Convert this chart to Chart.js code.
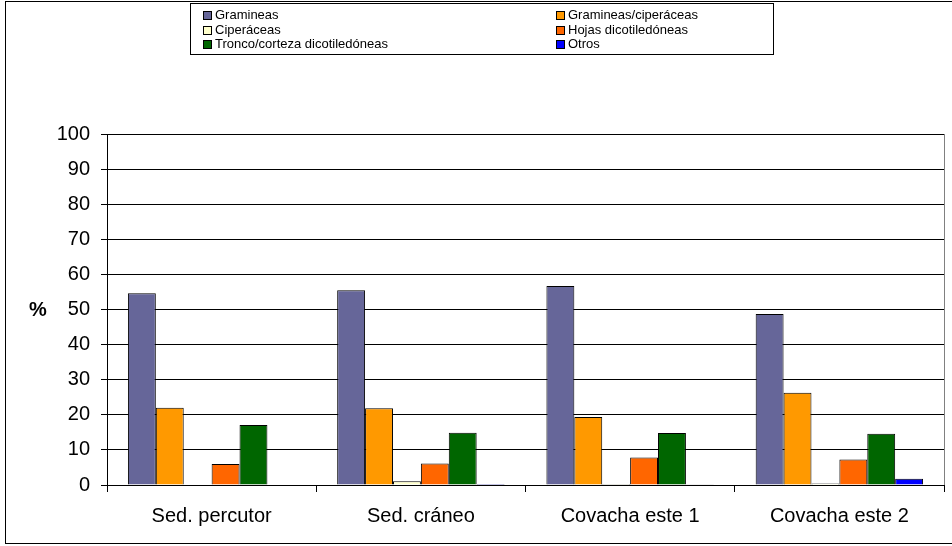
<!DOCTYPE html>
<html>
<head>
<meta charset="utf-8">
<script src="https://cdn.jsdelivr.net/npm/chart.js@4/dist/chart.umd.min.js"></script>
<style>
  html, body { margin: 0; padding: 0; background: #fff; }
  #wrap { width: 952px; height: 546px; position: relative; }
</style>
</head>
<body>
<div id="wrap"><canvas id="chartCanvas" width="952" height="546"></canvas></div>
<script>
const categories = ['Sed. percutor', 'Sed. cráneo', 'Covacha este 1', 'Covacha este 2'];
const seriesNames = ['Gramineas', 'Gramineas/ciperáceas', 'Ciperáceas', 'Hojas dicotiledóneas', 'Tronco/corteza dicotiledóneas', 'Otros'];
const gramineas = [54.6, 55.5, 56.7, 48.7];
const gramCiper = [22.0, 21.9, 19.4, 26.3];
const ciperaceas = [0, 1.1, 0.3, 0.4];
const hojas = [6.0, 6.1, 7.8, 7.3];
const tronco = [17.1, 14.9, 14.8, 14.6];
const otros = [0, 0.3, 0.2, 1.8];
const colors = ['#666699', '#FF9900', '#FFFFCC', '#FF6600', '#006600', '#0000FF'];
const yTicks = [0, 10, 20, 30, 40, 50, 60, 70, 80, 90, 100];

const allSeries = [gramineas, gramCiper, ciperaceas, hojas, tronco, otros];
const font = 'Arial, "Liberation Sans", sans-serif';

// legend box, frame and "%" label drawn on canvas
const extras = {
    id: 'extras',
    afterDraw(chart) {
        const c = chart.ctx;
        const a = chart.chartArea;
        c.save();
        // outer frame
        c.strokeStyle = '#000';
        c.lineWidth = 1;
        c.strokeRect(5.5, 1.5, 970, 542);
        // plot area right border
        c.strokeStyle = '#808080';
        c.beginPath();
        c.moveTo(Math.round(a.right) + 0.5, a.top);
        c.lineTo(Math.round(a.right) + 0.5, a.bottom);
        c.stroke();
        // legend
        c.strokeStyle = '#000';
        c.strokeRect(190.5, 3.5, 583, 51);
        c.font = '13px ' + font;
        c.textBaseline = 'middle';
        c.textAlign = 'left';
        const colX = [203, 556];
        const rowY = [15, 30, 44];
        chart.data.datasets.forEach((ds, i) => {
            const x = colX[i % 2];
            const y = rowY[Math.floor(i / 2)];
            c.fillStyle = ds.backgroundColor;
            c.fillRect(x, y - 4, 9, 9);
            c.strokeStyle = '#000';
            c.strokeRect(x + 0.5, y - 3.5, 8, 8);
            c.fillStyle = '#000';
            c.fillText(ds.label, x + 12, y + 0.5);
        });
        // y axis title
        c.font = 'bold 20px ' + font;
        c.textAlign = 'center';
        c.fillText('%', 38, 310);
        c.restore();
    }
};

const ctx = document.getElementById('chartCanvas').getContext('2d');
const chart = new Chart(ctx, {
    type: 'bar',
    data: {
        labels: categories,
        datasets: allSeries.map((d, i) => ({
            label: seriesNames[i],
            data: d,
            backgroundColor: colors[i],
            borderColor: '#000',
            borderWidth: 1,
            borderSkipped: 'bottom',
            categoryPercentage: 0.8,
            barPercentage: 1.0
        }))
    },
    options: {
        responsive: false,
        animation: false,
        devicePixelRatio: 1,
        layout: { padding: { left: 0, top: 134, right: 8, bottom: 0 } },
        plugins: { legend: { display: false }, tooltip: { enabled: false } },
        scales: {
            x: {
                afterFit: s => { s.height = 61; },
                grid: { offset: true, drawOnChartArea: false, drawTicks: true, tickLength: 7, color: '#000' },
                border: { color: '#000' },
                ticks: { color: '#000', font: { size: 20, family: font }, padding: 12, maxRotation: 0 }
            },
            y: {
                min: 0, max: 100,
                afterFit: s => { s.width = 107; },
                afterBuildTicks: s => { s.ticks = yTicks.map(v => ({ value: v })); },
                grid: { color: '#000', tickLength: 6 },
                border: { color: '#000' },
                ticks: { color: '#000', font: { size: 20, family: font }, padding: 11 }
            }
        }
    },
    plugins: [extras]
});
</script>
</body>
</html>
